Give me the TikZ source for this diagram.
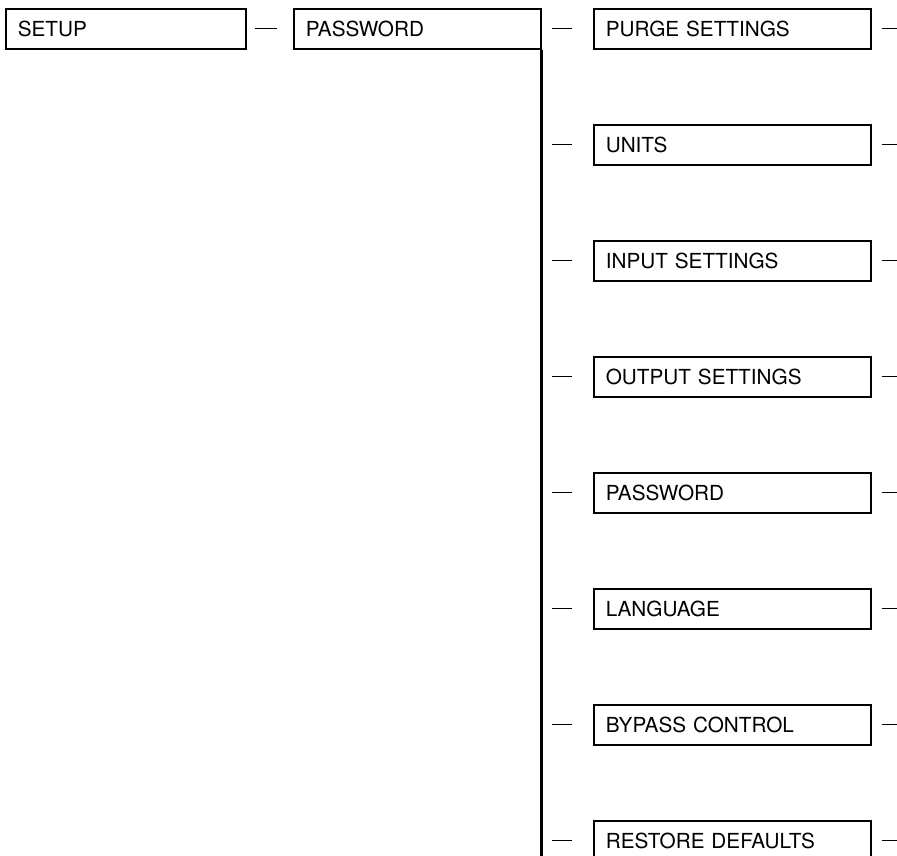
\documentclass[tikz,border=0pt]{standalone}
\usepackage{fontspec}
\setmainfont{TeX Gyre Heros}
\usetikzlibrary{calc}

\begin{document}
\begin{tikzpicture}[x=0.02cm,y=-0.02cm,font=\fontsize{11.8}{14}\selectfont,
		menubox/.style={draw,line width=0.9pt,anchor=north west,minimum height=0.8cm,
			inner xsep=0.24cm,inner ysep=0pt,text height=8.5pt,text depth=0pt,align=left},
		dashline/.style={line width=0.7pt}]
					\clip (0,0) rectangle (897,856);
					% top row
					\node[menubox,text width=4.32cm] (setup) at (5,8) {SETUP};
					\node[menubox,text width=4.46cm] (pw) at (293,8) {PASSWORD};
					\draw[dashline,shorten <=0.16cm,shorten >=0.32cm] (setup.east) -- (pw.west);
					% spine
					\coordinate (spineend) at (540,880);
					\draw[line width=1.4pt] (pw.south east) -- (pw.south east |- spineend);
					% menu entries
					\foreach \entry [count=\i from 0] in {PURGE SETTINGS,UNITS,INPUT SETTINGS,OUTPUT SETTINGS,PASSWORD,LANGUAGE,BYPASS CONTROL,RESTORE DEFAULTS} {
						\node[menubox,text width=5.06cm] (item\i) at (593,{8+116*\i}) {\entry};
						\coordinate (out\i) at ($(item\i.east)+(40,0)$);
						\draw[dashline,shorten <=0.2cm,shorten >=0.42cm] (item\i.west -| pw.east) -- (item\i.west);
						\draw[dashline,shorten <=0.2cm] (item\i.east) -- (out\i);
					}
				\end{tikzpicture}
\end{document}
